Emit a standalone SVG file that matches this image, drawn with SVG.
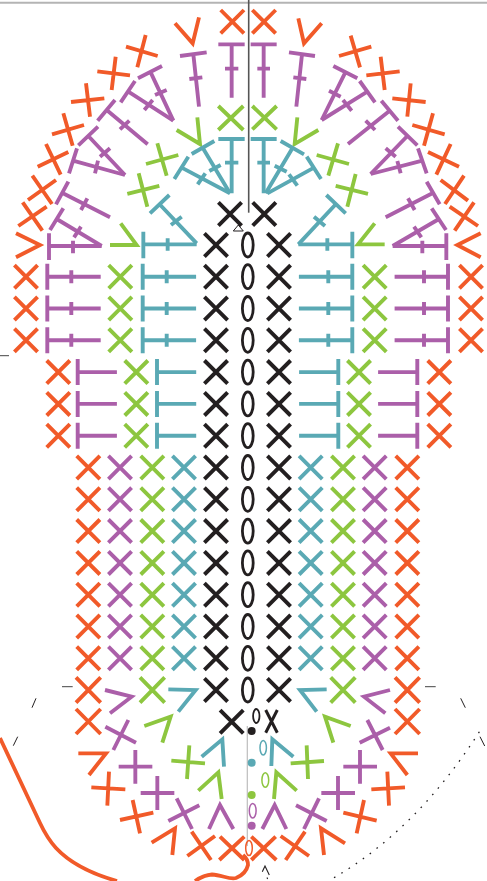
<svg xmlns="http://www.w3.org/2000/svg" width="487" height="881" viewBox="0 0 487 881">
<style>
path,ellipse{fill:none}
.o{stroke:#f15a29}.p{stroke:#ab5fa9}.g{stroke:#8dc63f}.t{stroke:#5aa9b4}.k{stroke:#231f20}
.s{stroke-width:3.9}
.z path{stroke-width:11.6}
.d{stroke:none}
</style>
<defs>
<path id="x" class="s" d="M-11.6-11.6L11.6 11.6M11.6-11.6L-11.6 11.6"/>
<path id="t1" class="s" d="M0-13V13M0 0H53.4M24-6.5V6.5"/>
<path id="t1r" class="s" d="M0-13V13M0 0H-53.4M-24-6.5V6.5"/>
<path id="t2" class="s" d="M0-13V13M0 0H39.2"/>
<path id="t2r" class="s" d="M0-13V13M0 0H-39.2"/>
<g id="rK">
<use href="#x" class="k" x="216"/><use href="#x" class="k" x="279"/>
<ellipse class="k" cx="247.8" rx="5.4" ry="12" stroke-width="2.8"/>
</g>
<g id="rA">
<use href="#x" class="o" x="26"/><use href="#t1" class="p" x="47.3"/><use href="#x" class="g" x="120.3"/><use href="#t1" class="t" x="142.7"/>
<use href="#t1r" class="t" x="352.3"/><use href="#x" class="g" x="374.7"/><use href="#t1r" class="p" x="448"/><use href="#x" class="o" x="471"/>
</g>
<g id="rB">
<use href="#x" class="o" x="58.3"/><use href="#t2" class="p" x="77.7"/><use href="#x" class="g" x="136.3"/><use href="#t2" class="t" x="157"/>
<use href="#t2r" class="t" x="338.3"/><use href="#x" class="g" x="359"/><use href="#t2r" class="p" x="417.3"/><use href="#x" class="o" x="439.3"/>
</g>
<g id="rC">
<use href="#x" class="o" x="88.3"/><use href="#x" class="p" x="120"/><use href="#x" class="g" x="152.3"/><use href="#x" class="t" x="184"/>
<use href="#x" class="t" x="310.7"/><use href="#x" class="g" x="343"/><use href="#x" class="p" x="374.7"/><use href="#x" class="o" x="407.3"/>
</g>
</defs>

<g id="frame-lines">
<path d="M0 2.7H487" stroke="#b4b4b4" stroke-width="2"/>
<path d="M248.7 0V212.7" stroke="#555" stroke-width="1.6"/>
<path d="M247.3 726V846" stroke="#bdbdbd" stroke-width="1.2"/>
<path d="M233.3 231L238.3 225L243.3 231Z" stroke="#231f20" stroke-width="1"/>
<path d="M0 355.7H9M62 686.7H72.7M425 686.7H435.7" stroke="#444" stroke-width="1"/>
<path d="M36 698.3L32 707.7M17.7 736.7L13.3 745.7M460.7 698.3L465.3 707.7M480 736.7L484.7 746" stroke="#231f20" stroke-width="1"/>
<path d="M334 877.7C390 845 440 795 483 726" stroke="#231f20" stroke-width="1.3" stroke-dasharray="1.6 7"/>
</g>

<g id="center-rows">
<use href="#rK" y="245"/><use href="#rK" y="276.7"/><use href="#rK" y="308.5"/><use href="#rK" y="340.3"/><use href="#rK" y="372.1"/><use href="#rK" y="403.9"/><use href="#rK" y="435.7"/><use href="#rK" y="467.5"/><use href="#rK" y="499.3"/><use href="#rK" y="531.1"/><use href="#rK" y="562.9"/><use href="#rK" y="594.7"/><use href="#rK" y="626.5"/><use href="#rK" y="658.3"/><use href="#rK" y="690"/>
<use href="#x" class="k" x="230" y="214"/><use href="#x" class="k" x="264.3" y="214"/>
<use href="#x" class="k" x="231.7" y="721.7"/>
<path class="k" stroke-width="3" d="M265.7 710L277.3 732.7M277.3 710L265.7 732.7"/>
</g>

<g id="side-rows">
<use href="#rA" y="276.7"/><use href="#rA" y="308.5"/><use href="#rA" y="340.3"/>
<use href="#rB" y="372.1"/><use href="#rB" y="403.9"/><use href="#rB" y="435.7"/>
<use href="#rC" y="467.5"/><use href="#rC" y="499.3"/><use href="#rC" y="531.1"/><use href="#rC" y="562.9"/><use href="#rC" y="594.7"/><use href="#rC" y="626.5"/><use href="#rC" y="658.3"/>
</g>

<g id="top-left" class="z" transform="scale(.33333)">
<path class="o" d="M662 30L732 100M732 30L662 100"/>
<path class="o" d="M525 70L578 130L597 52"/>
<path class="o" d="M378 140L473 168M437 105L412 202"/>
<path class="o" d="M292 214L390 226M347 170L335 270"/>
<path class="o" d="M213 306L313 295M258 250L270 350"/>
<path class="o" d="M156 403L252 375M190 340L218 437"/>
<path class="o" d="M113 500L205 456M138 432L182 524"/>
<path class="o" d="M84 600L168 540M97 527L156 612"/>
<path class="o" d="M55 678L140 620M68 607L127 692"/>
<path class="o" d="M48 700L120 735L48 772"/>
<path class="p" d="M540 168L620 157M580 163L597 320M568 237L607 232"/>
<path class="p" d="M655 133H734M695 133V293M675 206H715"/>
<path class="p" d="M414 235L486 198M452 217L520 362M465 285L500 270"/>
<path class="p" d="M405 243L362 307M385 275L520 362M433 330L458 300"/>
<path class="p" d="M345 300L293 362M320 330L443 433M360 388L388 362"/>
<path class="p" d="M294 380L235 436M265 408L375 525M300 470L330 445"/>
<path class="p" d="M231 445L207 520M219 482L375 525M294 482L285 520"/>
<path class="p" d="M205 545L168 613M186 578L330 652M262 595L243 630"/>
<path class="p" d="M190 625L150 690M170 657L305 738M243 680L222 712"/>
<path class="p" d="M147 700V780M147 738H305M219 722V760"/>
<path class="g" d="M530 390L600 432L592 352"/>
<path class="g" d="M655 318L730 390M730 318L655 390"/>
<path class="g" d="M438 492L535 465M472 430L500 527"/>
<path class="g" d="M382 582L478 558M416 520L442 620"/>
<path class="g" d="M330 735H410L362 670"/>
<path class="t" d="M655 417H734M695 417V580M675 488H715"/>
<path class="t" d="M575 462L643 423M608 443L690 580M628 513L662 495"/>
<path class="t" d="M565 470L523 537M545 503L690 580M593 553L616 520"/>
<path class="t" d="M508 585L450 640M478 612L590 730M513 675L545 650"/>
<path class="t" d="M430 695V775M430 733H590M503 715V752"/>
</g>

<g id="top-right" class="z" transform="translate(244 0) scale(.33333)">
<path class="o" d="M25 30L95 100M95 30L25 100"/>
<path class="o" d="M163 55L180 130L233 70"/>
<path class="o" d="M285 168L382 140M320 107L348 202"/>
<path class="o" d="M367 226L467 214M410 170L422 270"/>
<path class="o" d="M445 295L545 306M500 250L490 350"/>
<path class="o" d="M505 375L602 403M567 340L540 437"/>
<path class="o" d="M552 456L645 500M620 432L577 524"/>
<path class="o" d="M590 540L672 602M660 527L603 612"/>
<path class="o" d="M617 620L702 678M690 607L632 692"/>
<path class="o" d="M710 700L640 735L710 772"/>
<path class="p" d="M20 133H98M59 133V293M40 206H78"/>
<path class="p" d="M135 157L213 168M174 163L157 320M148 232L187 237"/>
<path class="p" d="M268 198L340 235M304 217L233 360M255 272L290 290"/>
<path class="p" d="M347 243L393 307M370 275L233 360M297 300L323 332"/>
<path class="p" d="M412 302L462 362M437 332L312 432M365 362L393 390"/>
<path class="p" d="M462 380L520 436M490 408L380 522M425 445L455 470"/>
<path class="p" d="M522 445L548 520M535 482L380 522M460 483L470 520"/>
<path class="p" d="M548 545L587 613M568 578L425 652M492 595L512 630"/>
<path class="p" d="M563 625L606 690M585 657L446 738M510 680L532 712"/>
<path class="p" d="M607 700V780M607 738H446M535 722V760"/>
<path class="g" d="M25 318L98 388M98 318L25 388"/>
<path class="g" d="M160 352L152 432L223 390"/>
<path class="g" d="M218 465L315 492M282 430L253 527"/>
<path class="g" d="M275 558L372 582M335 522L310 620"/>
<path class="g" d="M422 733H342L392 670"/>
<path class="t" d="M20 417H98M59 417V580M40 488H78"/>
<path class="t" d="M110 423L180 463M146 443L65 580M92 497L128 515"/>
<path class="t" d="M188 470L231 537M210 503L70 580M135 523L160 557"/>
<path class="t" d="M247 585L305 640M276 612L163 733M210 650L243 678"/>
<path class="t" d="M325 695V775M325 733H163M250 715V752"/>
</g>

<g id="bottom-left" class="z" transform="translate(0 660) scale(.33333)">
<path class="o" d="M228 52L302 128M302 52L228 128"/>
<path class="o" d="M228 147L302 222M302 147L228 222"/>
<path class="p" d="M315 90L395 110L330 160"/>
<path class="g" d="M420 52L494 128M494 52L420 128"/>
<path class="t" d="M505 88L587 90L535 155"/>
<path class="p" d="M316 200L408 248M385 180L340 270"/>
<path class="g" d="M433 198L512 170L487 248"/>
<path class="o" d="M235 280H318L267 345"/>
<path class="p" d="M356 320H457M406 270V371"/>
<path class="g" d="M514 302L615 310M568 256L561 357"/>
<path class="t" d="M605 290L667 238L672 320"/>
<path class="o" d="M274 382L376 388M327 335L322 437"/>
<path class="p" d="M422 399H523M472 348V450"/>
<path class="g" d="M595 392L655 337L665 417"/>
<path class="o" d="M360 480L460 458M398 420L420 520"/>
<path class="p" d="M505 483L598 436M530 415L576 507"/>
<path class="p" d="M627 507L660 435L700 507"/>
<path class="o" d="M455 548L525 505L517 585"/>
<path class="o" d="M562 588L645 528M575 515L633 600"/>
<path class="o" d="M658 600L733 530M660 530L733 600"/>
</g>

<g id="bottom-right" class="z" transform="translate(244 660) scale(.33333)">
<path class="t" d="M248 88L168 90L218 155"/>
<path class="g" d="M260 52L334 128M334 52L260 128"/>
<path class="p" d="M438 90L360 110L424 160"/>
<path class="o" d="M453 52L527 128M527 52L453 128"/>
<path class="o" d="M453 147L527 222M527 147L453 222"/>
<path class="g" d="M320 198L243 170L268 248"/>
<path class="p" d="M347 248L438 203M370 180L416 270"/>
<path class="t" d="M148 290L85 238L82 318"/>
<path class="g" d="M140 310L240 303M188 256L192 357"/>
<path class="p" d="M298 320H399M348 270V371"/>
<path class="o" d="M522 280H440L490 345"/>
<path class="g" d="M158 392L97 337L90 417"/>
<path class="p" d="M232 399H333M282 348V450"/>
<path class="o" d="M382 388L483 382M430 335L435 437"/>
<path class="p" d="M55 507L92 435L127 507"/>
<path class="p" d="M156 436L248 483M225 415L180 507"/>
<path class="o" d="M298 458L398 482M360 420L338 520"/>
<path class="o" d="M303 550L231 505L240 585"/>
<path class="o" d="M110 528L195 588M183 515L125 600"/>
<path class="o" d="M22 530L97 600M95 530L22 600"/>
</g>

<g id="chains">
<ellipse class="k" cx="256.3" cy="716" rx="3.2" ry="7" stroke-width="1.8"/>
<circle class="d" cx="251.7" cy="731" r="4" fill="#231f20"/>
<ellipse class="t" cx="263.2" cy="747.7" rx="3.2" ry="7.3" stroke-width="1.5"/>
<circle class="d" cx="251.7" cy="762.7" r="4" fill="#5aa9b4"/>
<ellipse class="g" cx="265.3" cy="780" rx="3.4" ry="7.3" stroke-width="1.5"/>
<circle class="d" cx="251.7" cy="795" r="4" fill="#8dc63f"/>
<ellipse class="p" cx="252.7" cy="810.7" rx="3.4" ry="7.3" stroke-width="1.5"/>
<circle class="d" cx="251.7" cy="825.7" r="4" fill="#ab5fa9"/>
<ellipse class="o" cx="249" cy="848" rx="3.3" ry="7.6" stroke-width="1.5"/>
</g>

<g id="outline">
<path class="o" stroke-width="3.8" d="M0 738L40 823Q47 838 56 848C70 863 92 874 117 881"/>
<path class="o" stroke-width="3.8" d="M195 881Q204 875 212 874.5C222 875 230 880 236 878Q246 874 248 865Q248 859 243 855"/>
<path d="M262.3 871.7L265 866L269.3 875M267 877.5L267.6 879" stroke="#231f20" stroke-width="1.1"/>
</g>
</svg>
